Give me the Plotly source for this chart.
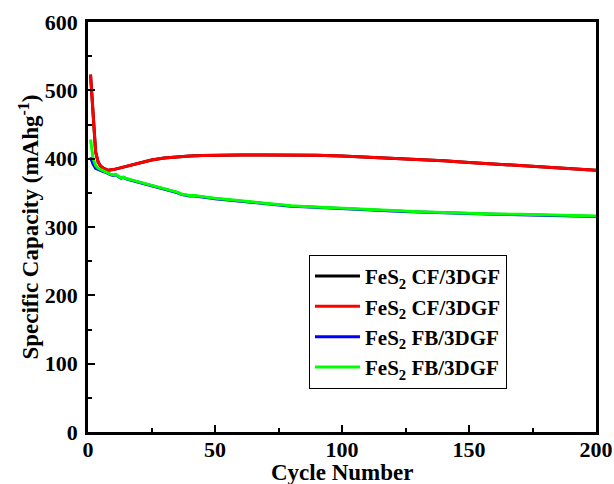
import plotly.graph_objects as go

# Red / black series (FeS2 CF/3DGF)
cf_cycles = [1, 2, 3, 4, 5, 6, 7, 8, 10, 12, 15, 18, 20, 25, 30, 35, 40, 45, 50, 60, 70,
             80, 90, 100, 110, 120, 130, 140, 150, 160, 170, 180, 190, 200]
cf_capacity = [523, 460, 410, 395, 389, 386, 384, 383, 384, 386, 389, 392, 394, 398, 401,
               403, 404, 404.5, 405, 405.5, 405.5, 405.5, 405, 404, 402.5, 401, 399, 397,
               394.5, 392, 390, 388, 385.5, 383]

# Green series (FeS2 FB/3DGF)
fb_cycles = [1, 2, 3, 4, 5, 6, 7, 8, 9, 10, 11, 12, 13, 14, 15, 17, 19, 20, 22, 24, 25, 27,
             30, 32, 35, 37, 40, 42, 45, 48, 50, 55, 60, 65, 70, 75, 80, 85, 90, 95, 100,
             110, 120, 130, 140, 150, 160, 170, 180, 190, 200]
fb_green = [428, 400, 390, 386, 384, 382, 381, 379, 377, 376, 377, 374, 372, 373, 371, 369,
            367, 366, 364, 362, 361, 359, 356, 355, 351, 348, 346, 346, 344, 343, 342, 340,
            338, 336, 334, 333, 331, 330, 329, 328, 327, 325, 324, 322.5, 321, 320, 319,
            318.5, 318, 317, 316]
# Blue series (FeS2 FB/3DGF)
fb_blue = [402, 392, 386, 384, 383, 381, 380, 378, 376.5, 375.5, 376.5, 373.5, 371.5, 372.5,
           370.5, 368.5, 366.5, 365.5, 363.5, 361.5, 360.5, 358.5, 355.5, 354.5, 350.5, 347.5,
           345.5, 345.5, 343.5, 342.5, 341.5, 339.5, 337.5, 335.5, 333.5, 332.5, 330.5,
           329.5, 328.5, 327.5, 326.5, 324.5, 323.5, 322, 320.5, 319.5, 318.5, 318, 317.5,
           316.5, 315.5]

names = ["FeS<sub>2</sub> CF/3DGF", "FeS<sub>2</sub> CF/3DGF",
         "FeS<sub>2</sub> FB/3DGF", "FeS<sub>2</sub> FB/3DGF"]
x_ticks = [0, 50, 100, 150, 200]
y_ticks = [0, 100, 200, 300, 400, 500, 600]
x_title = "Cycle Number"
y_title = "Specific Capacity (mAhg<sup>-1</sup>)"

fig = go.Figure()
fig.add_trace(go.Scatter(x=cf_cycles, y=cf_capacity, mode="lines", name=names[0],
                         line=dict(color="black", width=3)))
fig.add_trace(go.Scatter(x=cf_cycles, y=cf_capacity, mode="lines", name=names[1],
                         line=dict(color="#ff0000", width=3)))
fig.add_trace(go.Scatter(x=fb_cycles, y=fb_blue, mode="lines", name=names[2],
                         line=dict(color="#0000ff", width=3)))
fig.add_trace(go.Scatter(x=fb_cycles, y=fb_green, mode="lines", name=names[3],
                         line=dict(color="#00ff00", width=3)))

font_family = "Liberation Serif"
fig.update_layout(
    width=614, height=484,
    margin=dict(l=88, r=18, t=22, b=52, autoexpand=False),
    paper_bgcolor="white", plot_bgcolor="white",
    font=dict(family=font_family, size=22, color="black"),
    showlegend=True,
    legend=dict(x=0.435, y=0.432, xanchor="left", yanchor="top",
                bordercolor="black", borderwidth=1, bgcolor="white",
                font=dict(family=font_family, size=21, color="black", weight="bold"),
                tracegroupgap=0, itemwidth=45),
    xaxis=dict(range=[0, 200], tickvals=x_ticks, ticktext=[str(v) for v in x_ticks],
               showgrid=False, zeroline=False, showline=True, linecolor="black",
               linewidth=2.5, mirror=True, ticks="inside", ticklen=7, tickwidth=2,
               tickcolor="black", ticklabelstandoff=-4,
               tickfont=dict(family=font_family, size=22, weight="bold"),
               minor=dict(ticks="inside", ticklen=4, tickwidth=2, dtick=25, tick0=0,
                          tickcolor="black", showgrid=False)),
    yaxis=dict(range=[0, 600], tickvals=y_ticks, ticktext=[str(v) for v in y_ticks],
               showgrid=False, zeroline=False, showline=True, linecolor="black",
               linewidth=2.5, mirror=True, ticks="inside", ticklen=7, tickwidth=2,
               tickcolor="black", ticklabelstandoff=3,
               tickfont=dict(family=font_family, size=22, weight="bold"),
               minor=dict(ticks="inside", ticklen=4, tickwidth=2, dtick=50, tick0=0,
                          tickcolor="black", showgrid=False),
               title=dict(text=y_title, standoff=0,
                          font=dict(family=font_family, size=23, weight="bold"))),
    annotations=[dict(text=x_title, xref="paper", yref="paper", x=0.5, y=-0.099,
                      xanchor="center", yanchor="middle", showarrow=False,
                      font=dict(family=font_family, size=23, weight="bold",
                                color="black"))],
)

fig.write_html("out.html")
